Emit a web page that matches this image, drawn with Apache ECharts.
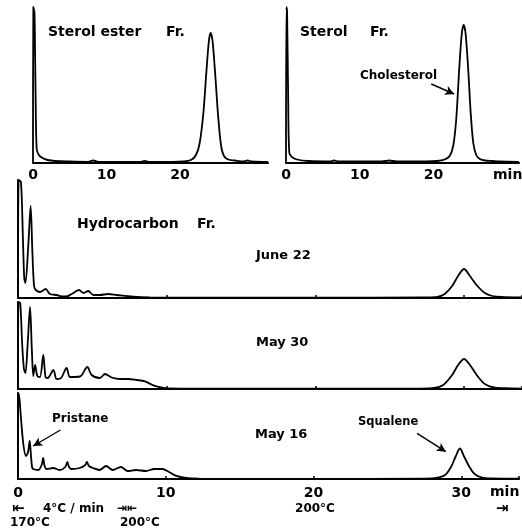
<!DOCTYPE html>
<html>
<head>
<meta charset="utf-8">
<script src="https://cdn.jsdelivr.net/npm/echarts@6/dist/echarts.min.js"></script>
<style>html,body{margin:0;padding:0;background:#fff}#c{width:522px;height:531px}</style>
</head>
<body>
<div id="c"></div>
<script>
// Retention time (min) vs detector response (arbitrary units)
const sterolEsterTrace = [[0,0],[0.05,156],[0.2,150],[0.35,70],[0.5,14],[0.8,8],[1.3,5],[2,3],[3,2],[5,1.5],[7.5,1.2],[8.2,2.5],[8.9,1.2],[12,1],[14.6,1],[15.2,2.2],[15.8,1],[19,1],[20.5,1.5],[21.5,3],[22.2,8],[22.7,20],[23.2,50],[23.6,90],[23.95,122],[24.2,130],[24.45,122],[24.8,90],[25.2,48],[25.6,18],[26,7],[26.6,3.5],[27.5,2.5],[28.6,1.5],[29.2,2.5],[29.8,1.5],[32,1]];
const sterolTrace = [[0,0],[0.05,156],[0.15,150],[0.3,60],[0.45,10],[0.8,6],[1.5,3.5],[3,2],[6,1.5],[6.5,2.5],[7.2,1.5],[13,1.5],[14,2.5],[15,1.5],[19,1.5],[20.5,2],[21.5,3.5],[22.2,7],[22.7,18],[23.1,45],[23.5,95],[23.85,130],[24.1,138],[24.35,130],[24.7,95],[25.05,50],[25.4,20],[25.8,8],[26.3,4],[27,2.5],[28,2],[29,1.5],[31.6,1]];
const june22Trace = [[0,0],[0.05,118],[0.2,116],[0.33,60],[0.42,20],[0.5,15],[0.7,55],[0.85,92],[0.97,45],[1.08,12],[1.2,8],[1.48,6],[1.86,9],[2.15,4],[2.6,3],[2.94,1.5],[3.27,1.5],[3.61,4],[4.1,8],[4.39,5],[4.73,7],[5.07,3],[5.51,3],[6.07,4],[6.64,3],[7.76,1.3],[8.88,0.6],[12,0.4],[20,0.3],[27.5,0.5],[28.2,1],[28.7,4],[29.2,12],[29.6,22],[30,29],[30.4,22],[30.9,12],[31.4,5],[31.9,2],[32.5,1],[33.9,0.5]];
const may30Trace = [[0,0],[0.03,87],[0.15,86],[0.28,45],[0.4,20],[0.5,16],[0.65,45],[0.81,82],[0.93,40],[1.03,13],[1.15,24],[1.3,13],[1.48,12],[1.7,34],[1.85,12],[2.0,11],[2.38,19],[2.6,10],[2.9,11],[3.27,21],[3.5,12],[4.17,12.5],[4.66,22],[4.95,14],[5.51,11],[5.85,15],[6.3,11.5],[6.86,10],[7.42,10],[7.98,9],[8.54,7.7],[9.1,3.7],[9.77,1.2],[10.2,0.5],[12,0.3],[20,0.3],[27,0.4],[28,1],[28.6,4],[29.2,14],[29.6,24],[30,30],[30.4,24],[30.9,13],[31.4,5],[32,1.5],[32.7,0.8],[33.9,0.4]];
const may16Trace = [[0,0],[0.02,86],[0.1,80],[0.18,65],[0.36,35],[0.54,23],[0.68,27],[0.79,38],[0.87,25],[0.95,12],[1.03,10],[1.37,9],[1.6,14],[1.7,21],[1.8,13],[1.93,10],[2.38,11],[2.82,9],[3.2,12],[3.34,17],[3.45,12],[3.61,10],[4.17,11],[4.55,14],[4.66,17],[4.8,13],[5.07,11],[5.51,9],[5.96,13],[6.41,9],[6.97,12],[7.42,8],[7.98,9],[8.66,8],[9.21,10],[9.77,10],[10.22,7],[10.67,3.3],[11.34,1],[12.24,0.3],[20,0.2],[27.5,0.4],[28.3,1],[28.9,4],[29.3,12],[29.6,22],[29.9,30.5],[30.2,22],[30.55,12],[30.9,5],[31.4,1.5],[32,0.6],[33.9,0.3]];

const topTicks = [0, 10, 20];
const bottomTicks = [0, 10, 20, 30];

// annotation arrows [from, to] in data coordinates
const cholesterolArrow = [[19.7, 79], [22.8, 69]];
const pristaneArrow = [[2.87, 49], [1.03, 33]];
const squaleneArrow = [[27.0, 45.7], [28.95, 27.3]];

const FONT = '"DejaVu Sans", sans-serif';
const chart = echarts.init(document.getElementById('c'), null, {renderer: 'canvas'});

const grids = [
  {left: 33, width: 235, top: 7, height: 156},
  {left: 286, width: 234, top: 7, height: 156},
  {left: 18, width: 504, top: 180, height: 118},
  {left: 18, width: 504, top: 302, height: 87},
  {left: 18, width: 504, top: 393, height: 86}
];
const xMax = [32, 31.6, 33.9, 33.9, 33.9];
const yMax = [156, 156, 118, 87, 86];
const showLabels = [true, true, false, false, true];

const xAxes = grids.map((g, i) => ({
  type: 'value', gridIndex: i, min: 0, max: xMax[i], interval: 10,
  axisLine: {show: true, onZero: false, lineStyle: {color: '#000', width: 2.2}},
  axisTick: {show: i >= 2, inside: true, length: 3, lineStyle: {color: '#000', width: 1.5}},
  splitLine: {show: false},
  axisLabel: {
    show: showLabels[i], margin: i < 2 ? 5 : 7, color: '#000', fontFamily: FONT, fontWeight: 'bold', fontSize: 14,
    formatter: v => ((i < 2 ? topTicks : bottomTicks).indexOf(v) >= 0 ? String(v) : '')
  }
}));
const yAxes = grids.map((g, i) => ({
  type: 'value', gridIndex: i, min: 0, max: yMax[i],
  axisLine: {show: i >= 2, onZero: false, lineStyle: {color: '#000', width: 2}},
  axisTick: {show: false}, axisLabel: {show: false}, splitLine: {show: false}
}));

function arrowLine(a) {
  return {
    silent: true, symbol: ['none', 'arrow'], symbolSize: [7, 9],
    lineStyle: {color: '#000', width: 1.4, type: 'solid'},
    label: {show: false},
    data: [[{coord: a[0]}, {coord: a[1]}]]
  };
}

const traces = [sterolEsterTrace, sterolTrace, june22Trace, may30Trace, may16Trace];
const series = traces.map((d, i) => ({
  type: 'line', xAxisIndex: i, yAxisIndex: i, data: d,
  showSymbol: false, smooth: 0.3,
  lineStyle: {color: '#000', width: 1.8}, animation: false
}));
series[1].markLine = arrowLine(cholesterolArrow);
series[4].markLine = arrowLine(pristaneArrow);
series[4].markLine.data.push([{coord: squaleneArrow[0]}, {coord: squaleneArrow[1]}]);

function txt(text, x, y, size, align) {
  return {type: 'text', x: x, y: y, silent: true,
    style: {text: text, fill: '#000', font: 'bold ' + size + 'px ' + FONT, align: align || 'left', verticalAlign: 'middle'}};
}

chart.setOption({
  animation: false,
  backgroundColor: '#fff',
  grid: grids,
  xAxis: xAxes,
  yAxis: yAxes,
  series: series,
  graphic: [
    txt('Sterol ester', 48, 32, 14), txt('Fr.', 166, 32, 14),
    txt('Sterol', 300, 32, 14), txt('Fr.', 370, 32, 14),
    txt('min', 493, 175, 14),
    txt('Cholesterol', 360, 76, 12),
    txt('Hydrocarbon', 77, 224, 14), txt('Fr.', 197, 224, 14),
    txt('June 22', 256, 256, 13),
    txt('May 30', 256, 343, 13),
    txt('May 16', 255, 435, 13),
    txt('Pristane', 52, 419, 12),
    txt('Squalene', 358, 422, 11.5),
    txt('min', 490, 492, 14),
    txt('⇤', 12, 509, 15), txt('4°C / min', 43, 509, 12), txt('⇥⇤', 117, 509, 12),
    txt('200°C', 315, 509, 12, 'center'), txt('⇥', 496, 509, 15),
    txt('170°C', 10, 523, 12), txt('200°C', 120, 523, 12)
  ]
});
</script>
</body>
</html>
